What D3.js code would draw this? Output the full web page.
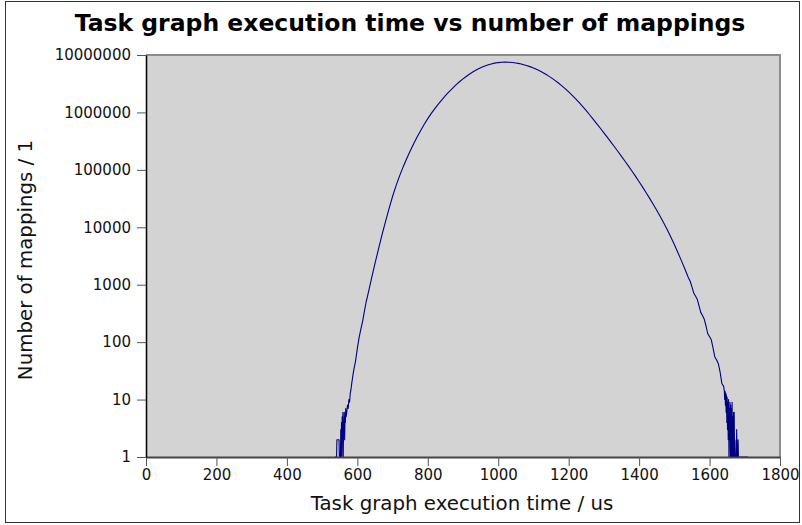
<!DOCTYPE html>
<html>
<head>
<meta charset="utf-8">
<script src="https://cdn.jsdelivr.net/npm/d3@7"></script>
<style>
  html, body { margin: 0; padding: 0; background: #fff; }
  svg { display: block; font-family: "DejaVu Sans", sans-serif; }
</style>
</head>
<body>
<svg id="chart" width="802" height="525"></svg>
<script>
// Histogram of task graph execution times (us) and number of mappings per time
const execTimeUs = [
  536, 541, 542, 548, 549, 552, 553, 554, 555, 556, 557, 558, 559, 560, 561, 562, 563, 564, 565, 566,
  567, 568, 570, 572, 574, 576, 578, 580, 582, 584, 586, 588, 590, 595, 600, 605, 610, 615, 620, 625,
  630, 640, 650, 660, 670, 680, 690, 700, 710, 720, 730, 740, 750, 760, 770, 780, 790, 800, 810, 820,
  830, 840, 850, 860, 870, 880, 890, 900, 910, 920, 930, 940, 950, 960, 970, 980, 990, 1000, 1010, 1020,
  1030, 1040, 1050, 1060, 1070, 1080, 1090, 1100, 1110, 1120, 1130, 1140, 1150, 1160, 1170, 1180, 1190, 1200,
  1210, 1220, 1230, 1240, 1250, 1260, 1270, 1280, 1290, 1300, 1310, 1320, 1330, 1340, 1350, 1360, 1370, 1380,
  1390, 1400, 1410, 1420, 1430, 1440, 1450, 1460, 1470, 1480, 1490, 1500, 1510, 1520, 1530, 1540, 1545, 1550,
  1555, 1560, 1565, 1570, 1575, 1580, 1585, 1590, 1595, 1600, 1605, 1610, 1615, 1620, 1625, 1630, 1635, 1640,
  1642, 1643, 1644, 1645, 1646, 1647, 1648, 1649, 1650, 1651, 1652, 1653, 1654, 1655, 1656, 1657,
  1658, 1659, 1660, 1661, 1662, 1663, 1664, 1665, 1666, 1667, 1668, 1669, 1670, 1671, 1672, 1673,
  1676, 1677, 1678, 1680, 1681, 1682, 1709
];
const mappings = [
  1, 1, 2, 2, 1, 1, 3, 1, 4, 1, 5, 2, 6, 1, 4, 3, 6, 2, 5, 4,
  7, 5, 6, 8, 7, 10, 9, 13, 15, 19, 23, 28, 33, 47, 78, 120, 168, 230, 344, 500,
  670, 1260, 2320, 4180, 7350, 12600, 21200, 34400, 53200, 78700, 112500, 156300, 213300, 285800, 375800, 486400, 620900, 779800, 961600, 1164000,
  1396000, 1660000, 1954000, 2280000, 2630000, 3013000, 3420000, 3837000, 4276000, 4710000, 5152000, 5572000, 5984000, 6353000, 6683000, 6982000, 7211000, 7379000, 7482000, 7516000,
  7489000, 7407000, 7272000, 7087000, 6855000, 6583000, 6275000, 5937000, 5577000, 5200000, 4813000, 4423000, 4032000, 3651000, 3281000, 2927000, 2592000, 2278000,
  1988000, 1722000, 1481000, 1264000, 1071000, 901600, 756800, 633900, 529700, 441600, 367300, 304800, 252300, 208400, 171800, 141300, 115900, 94620,
  76910, 62230, 50000, 39900, 31840, 25230, 19820, 15420, 11860, 9016, 6761, 5000, 3648, 2630, 1875, 1321, 1150, 920,
  720, 634, 560, 432, 330, 290, 250, 191, 140, 124, 110, 79, 55, 49, 42, 30, 19, 17,
  14, 10, 14, 8, 13, 6, 12, 4, 11, 3, 9, 2, 10, 1, 7, 2,
  9, 1, 8, 1, 7, 1, 9, 1, 5, 1, 6, 1, 6, 1, 2, 1,
  1, 3, 1, 1, 2, 1, 1
];
const xTicks = [0, 200, 400, 600, 800, 1000, 1200, 1400, 1600, 1800];
const yTicks = [1, 10, 100, 1000, 10000, 100000, 1000000, 10000000];

const titleText = "Task graph execution time vs number of mappings";
const xLabelText = "Task graph execution time / us";
const yLabelText = "Number of mappings / 1";

const svg = d3.select("#chart");
const plot = { left: 146, right: 780, top: 55, bottom: 457 };

// Outer frame
svg.append("rect")
  .attr("x", 5.5).attr("y", 1.5)
  .attr("width", 794).attr("height", 521)
  .attr("fill", "#fff").attr("stroke", "#333").attr("stroke-width", 1);

const x = d3.scaleLinear().domain([0, 1800]).range([plot.left, plot.right]);
const y = d3.scaleLog().domain([1, 1e7]).range([plot.bottom, plot.top]);

// Plot background
svg.append("rect")
  .attr("x", plot.left).attr("y", plot.top)
  .attr("width", plot.right - plot.left).attr("height", plot.bottom - plot.top)
  .attr("fill", "#d3d3d3");

// Top and right frame of the plot area
svg.append("path")
  .attr("d", `M${plot.left},${plot.top}H${plot.right}V${plot.bottom}`)
  .attr("fill", "none").attr("stroke", "#8c8c8c").attr("stroke-width", 2);

// Data line (counts below 1 sit on the axis)
const points = execTimeUs.map((t, i) => ({ t, n: Math.max(1, mappings[i]) }));
const line = d3.line().x(d => x(d.t)).y(d => y(d.n));
svg.append("clipPath").attr("id", "plotclip").append("rect")
  .attr("x", plot.left).attr("y", plot.top)
  .attr("width", plot.right - plot.left).attr("height", plot.bottom - plot.top);
svg.append("path")
  .datum(points)
  .attr("clip-path", "url(#plotclip)")
  .attr("d", line)
  .attr("fill", "none")
  .attr("stroke", "#000080")
  .attr("stroke-width", 1.1)
  .attr("stroke-linejoin", "round");

// Axes
const xAxis = d3.axisBottom(x).tickValues(xTicks).tickSize(9).tickPadding(3).tickSizeOuter(0)
  .tickFormat(d3.format("d"));
const gx = svg.append("g").attr("transform", `translate(0,${plot.bottom})`).call(xAxis);
gx.select(".domain").attr("stroke", "#444").attr("stroke-width", 2);
gx.selectAll(".tick line").attr("stroke", "#555");
gx.selectAll(".tick text").attr("font-size", 15).attr("fill", "#111")
  .attr("font-family", "DejaVu Sans");

const yAxis = d3.axisLeft(y).tickValues(yTicks).tickSize(9).tickPadding(6).tickSizeOuter(0)
  .tickFormat(d3.format("d"));
const gy = svg.append("g").attr("transform", `translate(${plot.left},0)`).call(yAxis);
gy.select(".domain").attr("stroke", "#000").attr("stroke-width", 1.5);
gy.selectAll(".tick line").attr("stroke", "#555");
gy.selectAll(".tick text").attr("font-size", 15).attr("fill", "#111")
  .attr("font-family", "DejaVu Sans");

// Title and axis labels
svg.append("text")
  .attr("x", 410).attr("y", 31)
  .attr("text-anchor", "middle")
  .attr("font-size", 23.5).attr("font-weight", "bold").attr("fill", "#000")
  .text(titleText);

svg.append("text")
  .attr("x", 462).attr("y", 510)
  .attr("text-anchor", "middle")
  .attr("font-size", 19.8).attr("fill", "#111")
  .text(xLabelText);

svg.append("text")
  .attr("transform", `translate(32,${(plot.top + plot.bottom) / 2 + 4}) rotate(-90)`)
  .attr("text-anchor", "middle")
  .attr("font-size", 19.8).attr("fill", "#111")
  .text(yLabelText);
</script>
</body>
</html>
